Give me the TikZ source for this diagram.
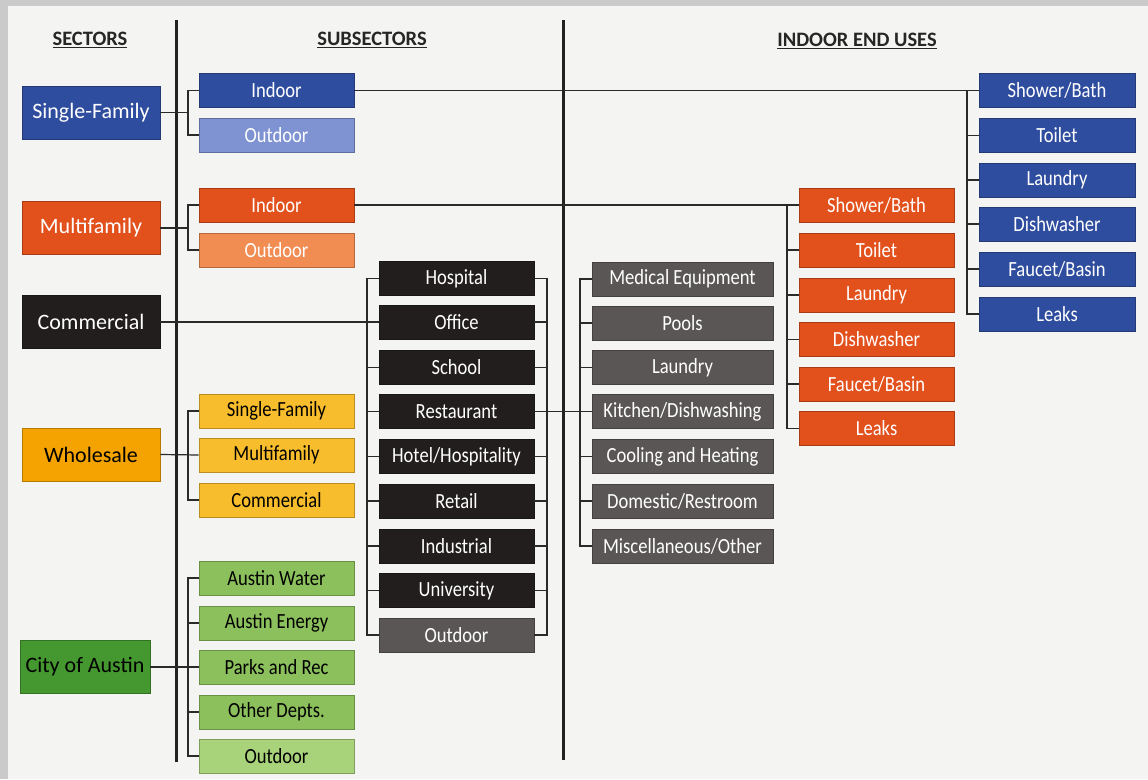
\documentclass[tikz,border=0pt]{standalone}
\usepackage{fontspec}
\setmainfont{Carlito}
\newfontfamily\narrowfont{Carlito}[FakeStretch=0.86]
\definecolor{bgout}{HTML}{CACACA}
\definecolor{bgin}{HTML}{F4F4F2}
\definecolor{cblue}{HTML}{2F4D9E}
\definecolor{clblue}{HTML}{7F93D3}
\definecolor{corange}{HTML}{E2501C}
\definecolor{clorange}{HTML}{F18C52}
\definecolor{cblack}{HTML}{221E1E}
\definecolor{cgrey}{HTML}{5A5656}
\definecolor{cwhole}{HTML}{F4A300}
\definecolor{cyellow}{HTML}{F7BD2C}
\definecolor{ccity}{HTML}{44982F}
\definecolor{cgreen}{HTML}{8CC05C}
\definecolor{clgreen}{HTML}{A9D37A}
\definecolor{cline}{HTML}{2A2A2A}
\tikzset{
  box/.style={rectangle, fill=#1, draw=#1!75!black, line width=0.8pt, inner sep=0pt, text=white},
  sectorbox/.style={box=#1, minimum width=138pt, minimum height=53pt, font=\fontsize{22}{24}\selectfont},
  subbox/.style={box=#1, minimum width=155pt, minimum height=34pt, font=\fontsize{21.6}{24}\narrowfont},
  usebox/.style={box=#1, minimum width=181pt, minimum height=34pt, font=\fontsize{21.6}{24}\narrowfont},
  dk/.style={text=black},
  conn/.style={draw=cline, line width=1.2pt},
  divider/.style={draw=cline!80!black, line width=3pt},
  header/.style={font=\fontsize{20.5}{22}\selectfont\bfseries, text=black!85}
}
\begin{document}
\begin{tikzpicture}[x=1pt,y=-1pt]
\fill[bgout] (0,0) rectangle (1148,779);
\fill[bgin] (8,6) rectangle (1148,779);
\useasboundingbox (0,0) rectangle (1148,779);

% headers
\node[header] (hsec) at (90,40) {\underline{SECTORS}};
\node[header] (hsub) at (372,40) {\underline{SUBSECTORS}};
\node[header] (hend) at (857,41) {\underline{INDOOR END USES}};

% dividers
\coordinate (d1t) at (176,20); \coordinate (d1b) at (176,762);
\coordinate (d2t) at (563,20); \coordinate (d2b) at (563,760);
\draw[divider] (d1t) -- (d1b);
\draw[divider] (d2t) -- (d2b);

% bus columns
\coordinate (b1) at (188,0);
\coordinate (b2) at (367,0);
\coordinate (b3) at (547,0);
\coordinate (b4) at (580,0);
\coordinate (b5) at (787,0);
\coordinate (b6) at (967,0);

% sectors
\node[sectorbox=cblue] (sf) at (91,112.5) {Single-Family};
\node[sectorbox=corange] (mf) at (91,228) {Multifamily};
\node[sectorbox=cblack] (com) at (91,322) {Commercial};
\node[sectorbox=cwhole, dk] (wh) at (91,454.5) {Wholesale};
\node[sectorbox=ccity, dk, minimum width=130pt] (city) at (85,667) {City of Austin};

% subsectors
\node[subbox=cblue] (sfin) at (276.5,90.5) {Indoor};
\node[subbox=clblue] (sfout) at (276.5,135) {Outdoor};
\node[subbox=corange] (mfin) at (276.5,205) {Indoor};
\node[subbox=clorange] (mfout) at (276.5,250) {Outdoor};
\node[subbox=cyellow, dk] (whsf) at (276.5,411) {Single-Family};
\node[subbox=cyellow, dk] (whmf) at (276.5,455) {Multifamily};
\node[subbox=cyellow, dk] (whcom) at (276.5,500) {Commercial};
\node[subbox=cgreen, dk] (caw) at (276.5,578) {Austin Water};
\node[subbox=cgreen, dk] (cae) at (276.5,623) {Austin Energy};
\node[subbox=cgreen, dk] (cpr) at (276.5,667) {Parks and Rec};
\node[subbox=cgreen, dk] (cod) at (276.5,712) {Other Depts.};
\node[subbox=clgreen, dk] (cout) at (276.5,756) {Outdoor};

% commercial subsectors
\node[subbox=cblack] (hosp) at (456.5,278.5) {Hospital};
\node[subbox=cblack] (off) at (456.5,322) {Office};
\node[subbox=cblack] (sch) at (456.5,367.5) {School};
\node[subbox=cblack] (rest) at (456.5,411.5) {Restaurant};
\node[subbox=cblack] (hotel) at (456.5,456.5) {Hotel/Hospitality};
\node[subbox=cblack] (ret) at (456.5,501) {Retail};
\node[subbox=cblack] (ind) at (456.5,546) {Industrial};
\node[subbox=cblack] (uni) at (456.5,590.5) {University};
\node[subbox=cgrey] (comout) at (456.5,635) {Outdoor};

% commercial end uses
\node[usebox=cgrey] (med) at (682.5,279) {Medical Equipment};
\node[usebox=cgrey] (pool) at (682.5,323) {Pools};
\node[usebox=cgrey] (claun) at (682.5,367.5) {Laundry};
\node[usebox=cgrey] (kit) at (682.5,411.5) {Kitchen/Dishwashing};
\node[usebox=cgrey] (cool) at (682.5,456.5) {Cooling and Heating};
\node[usebox=cgrey] (dom) at (682.5,501) {Domestic/Restroom};
\node[usebox=cgrey] (misc) at (682.5,546) {Miscellaneous/Other};

% multifamily end uses
\node[subbox=corange] (mshow) at (876.5,205) {Shower/Bath};
\node[subbox=corange] (mtoil) at (876.5,250) {Toilet};
\node[subbox=corange] (mlaun) at (876.5,295) {Laundry};
\node[subbox=corange] (mdish) at (876.5,339.5) {Dishwasher};
\node[subbox=corange] (mfauc) at (876.5,384) {Faucet/Basin};
\node[subbox=corange] (mleak) at (876.5,428.5) {Leaks};

% single-family end uses
\node[subbox=cblue, minimum width=156pt] (sshow) at (1057,90.5) {Shower/Bath};
\node[subbox=cblue, minimum width=156pt] (stoil) at (1057,135.5) {Toilet};
\node[subbox=cblue, minimum width=156pt] (slaun) at (1057,180) {Laundry};
\node[subbox=cblue, minimum width=156pt] (sdish) at (1057,224) {Dishwasher};
\node[subbox=cblue, minimum width=156pt] (sfauc) at (1057,269) {Faucet/Basin};
\node[subbox=cblue, minimum width=156pt] (sleak) at (1057,314) {Leaks};

% connectors: sectors to subsectors
\draw[conn] (sf.east) -- (sf.east -| b1);
\draw[conn] (sfin.west) -- (sfin.west -| b1) -- (sfout.west -| b1) -- (sfout.west);
\draw[conn] (mf.east) -- (mf.east -| b1);
\draw[conn] (mfin.west) -- (mfin.west -| b1) -- (mfout.west -| b1) -- (mfout.west);
\draw[conn] (wh.east) -- (whmf.west);
\draw[conn] (whsf.west) -- (whsf.west -| b1) -- (whcom.west -| b1) -- (whcom.west);
\draw[conn] (city.east) -- (cpr.west);
\draw[conn] (caw.west) -- (caw.west -| b1) -- (cout.west -| b1) -- (cout.west);
\draw[conn] (cae.west) -- (cae.west -| b1);
\draw[conn] (cod.west) -- (cod.west -| b1);

% commercial
\draw[conn] (com.east) -- (off.west);
\draw[conn] (hosp.west) -- (hosp.west -| b2) -- (comout.west -| b2) -- (comout.west);
\foreach \n in {sch,rest,hotel,ret,ind,uni} \draw[conn] (\n.west) -- (\n.west -| b2);
\draw[conn] (hosp.east) -- (hosp.east -| b3) -- (comout.east -| b3) -- (comout.east);
\foreach \n in {off,sch,rest,hotel,ret,ind,uni} \draw[conn] (\n.east) -- (\n.east -| b3);
\draw[conn] (rest.east) -- (kit.west);
\draw[conn] (med.west) -- (med.west -| b4) -- (misc.west -| b4) -- (misc.west);
\foreach \n in {pool,claun,cool,dom} \draw[conn] (\n.west) -- (\n.west -| b4);

% multifamily indoor
\draw[conn] (mfin.east) -- (mshow.west);
\draw[conn] (mshow.west -| b5) -- (mleak.west -| b5) -- (mleak.west);
\foreach \n in {mtoil,mlaun,mdish,mfauc} \draw[conn] (\n.west) -- (\n.west -| b5);

% single-family indoor
\draw[conn] (sfin.east) -- (sshow.west);
\draw[conn] (sshow.west -| b6) -- (sleak.west -| b6) -- (sleak.west);
\foreach \n in {stoil,slaun,sdish,sfauc} \draw[conn] (\n.west) -- (\n.west -| b6);
\end{tikzpicture}
\end{document}
